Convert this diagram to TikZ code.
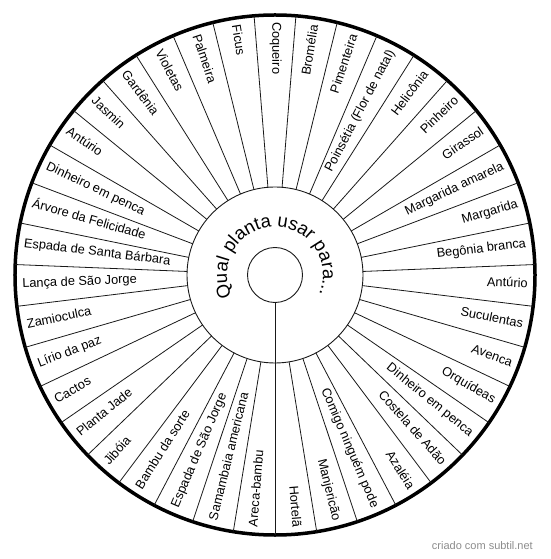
\documentclass[tikz,border=0pt]{standalone}
\usepackage{fontspec}
\setmainfont{Liberation Sans}
\usetikzlibrary{decorations.text}
\begin{document}
\begin{tikzpicture}[x=1pt,y=1pt,
  spoke/.style={line width=0.8pt, black!90},
  ring/.style={line width=0.9pt, black!90},
  rim/.style={line width=3.5pt, black},
  lbl/.style={font=\fontsize{12.8}{14}\selectfont, inner sep=0pt}]
\useasboundingbox (-275,-284) rectangle (275,275);
\draw[rim] (0,0) circle[radius=260];
\draw[ring] (0,0) circle[radius=88];
\draw[ring] (0,0) circle[radius=27.5];
\foreach \k in {1,...,38} \draw[spoke] (270+\k*360/39:88) -- (270+\k*360/39:260);
\draw[spoke] (270:27.5) -- (270:260);
\foreach [count=\i from 0] \t in {Coqueiro, Bromélia, Pimenteira, Poinsétia (Flor de natal), Helicônia, Pinheiro, Girassol, Margarida amarela, Margarida, Begônia branca, Antúrio, Suculentas, Avenca, Orquídeas, Dinheiro em penca, Costela de Adão, Azaléia, Comigo ninguém pode, Manjericão, Hortelã, Areca-bambu, Samambaia americana, Espada de São Jorge, Bambu da sorte, Jibóia, Planta Jade, Cactos, Lírio da paz, Zamioculca, Lança de São Jorge, Espada de Santa Bárbara, Árvore da Felicidade, Dinheiro em penca, Antúrio, Jasmin, Gardênia, Violetas, Palmeira, Ficus}{
  \pgfmathsetmacro\a{90-\i*360/39}
  \pgfmathtruncatemacro\rt{and(\i>0,\i<20)}
  \ifnum\rt=1
    \node[lbl, anchor=mid east, rotate=\a] (l\i) at (\a:253) {\t};
  \else
    \node[lbl, anchor=mid west, rotate=\a+180] (l\i) at (\a:253) {\t};
  \fi
}
\path[decorate, decoration={text along path, text align=center,
  text={|\fontsize{18.5}{18.5}\selectfont|Qual planta usar para...}}]
  (211.5:48) arc[start angle=211.5, end angle=-28.5, radius=48];
\node[anchor=east, text=black!45, font=\fontsize{11}{12}\selectfont, inner sep=0pt] (wm) at (258,-271) {criado com subtil.net};
\end{tikzpicture}
\end{document}
